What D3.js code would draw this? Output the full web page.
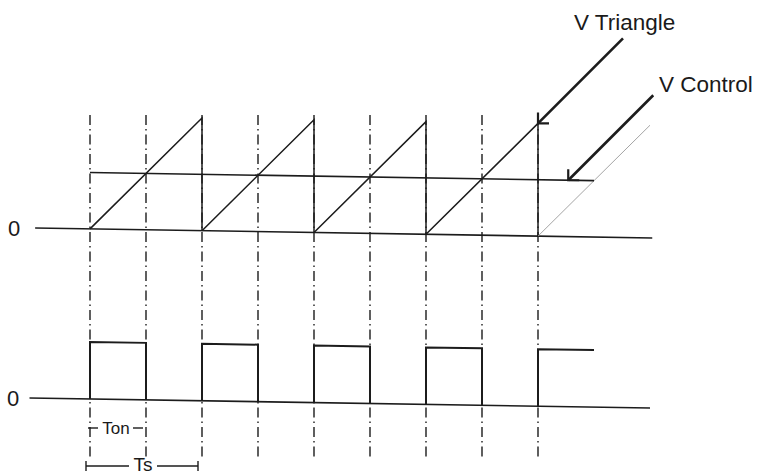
<!DOCTYPE html>
<html><head><meta charset="utf-8">
<script src="https://cdn.jsdelivr.net/npm/d3@7"></script>
<style>body{margin:0;background:#fff}text{font-family:"Liberation Sans",Arial,sans-serif;fill:#1a1a1a}</style>
</head><body>
<script>
// ---- data ----
const rampStarts = [0, 1, 2, 3];        // start of each black sawtooth ramp (units of Ts)
const rampPeak = 1;                       // triangle peak (normalised)
const extraRamp = [4, 5];                 // grey ramp continuing after last period
const vControl = 0.5;                     // control voltage
const controlSpan = [0, 4.5];
const pulseStarts = [0, 1, 2, 3, 4];
const pulseEnds = [0.5, 1.5, 2.5, 3.5, 4.5];
const pulseLevel = 1;
const gridTimes = [0, 0.5, 1, 1.5, 2, 2.5, 3, 3.5, 4];
const topAxisSpan = [-0.49, 5.02];
const botAxisSpan = [-0.54, 5.0];
const labels = {tri: "V Triangle", ctl: "V Control", zero: "0", ton: "Ton", ts: "Ts"};

const W = 760, H = 476;
const k = 0.0162; // scan tilt (skewY)
const svg = d3.select("body").append("svg").attr("width", W).attr("height", H);

const x = d3.scaleLinear().domain([0, 4]).range([90, 538]);
const yTop = d3.scaleLinear().domain([0, 1]).range([227.4, 114.7]);
const yBot = d3.scaleLinear().domain([0, 1]).range([397.5, 340.5]);
const sk = (px, py) => [px, py + px * k];

const col = "#1c1c1c";
// vertical dash-dot grid (screen space)
svg.append("g").selectAll("line").data(gridTimes).join("line")
  .attr("x1", d => x(d)).attr("x2", d => x(d))
  .attr("y1", 115).attr("y2", 460)
  .attr("stroke", col).attr("stroke-width", 1.4)
  .attr("stroke-dasharray", "10,4,1.5,4");

const g = svg.append("g").attr("transform", `matrix(1,${k},0,1,0,0)`);
const line = d3.line();

// zero lines
g.append("path").attr("d", line([[x(topAxisSpan[0]), yTop(0)], [x(topAxisSpan[1]), yTop(0)]]))
  .attr("stroke", col).attr("stroke-width", 1.6).attr("fill", "none");
g.append("path").attr("d", line([[x(botAxisSpan[0]), yBot(0)], [x(botAxisSpan[1]), yBot(0)]]))
  .attr("stroke", col).attr("stroke-width", 1.6).attr("fill", "none");

// sawtooth ramps + drops
rampStarts.forEach(t => {
  g.append("path").attr("d", line([[x(t), yTop(0)], [x(t + 1), yTop(rampPeak)], [x(t + 1), yTop(0)]]))
    .attr("stroke", col).attr("stroke-width", 1.5).attr("fill", "none");
});
// grey continuing ramp
g.append("path").attr("d", line([[x(extraRamp[0]), yTop(0)], [x(extraRamp[1]), yTop(rampPeak)]]))
  .attr("stroke", "#9a9a9a").attr("stroke-width", 0.9).attr("fill", "none");

// control line
g.append("path").attr("d", line([[x(controlSpan[0]), yTop(vControl)], [x(controlSpan[1]), yTop(vControl)]]))
  .attr("stroke", col).attr("stroke-width", 1.6).attr("fill", "none");

// pulses
pulseStarts.forEach((s, i) => {
  const e = pulseEnds[i];
  const pts = i < pulseStarts.length - 1
    ? [[x(s), yBot(0)], [x(s), yBot(pulseLevel)], [x(e), yBot(pulseLevel)], [x(e), yBot(0)]]
    : [[x(s), yBot(0)], [x(s), yBot(pulseLevel)], [x(e), yBot(pulseLevel)]];
  g.append("path").attr("d", line(pts)).attr("stroke", col).attr("stroke-width", 2).attr("fill", "none");
});

// arrows (screen space)
function arrow(tip) {
  const [tx, ty] = tip;
  svg.append("line").attr("x1", tx + 85).attr("y1", ty - 85).attr("x2", tx).attr("y2", ty)
    .attr("stroke", col).attr("stroke-width", 2.6);
  svg.append("path").attr("d", line([[tx, ty - 11], [tx, ty], [tx + 11, ty]]))
    .attr("stroke", col).attr("stroke-width", 2.2).attr("fill", "none");
}
arrow(sk(x(4), yTop(rampPeak)));
arrow(sk(x(4.27), yTop(vControl)));

svg.append("text").attr("x", 574).attr("y", 30).attr("font-size", 22.5).text(labels.tri);
svg.append("text").attr("x", 659).attr("y", 92).attr("font-size", 22.5).text(labels.ctl);
svg.append("text").attr("x", 8).attr("y", 236).attr("font-size", 22).text(labels.zero);
svg.append("text").attr("x", 7).attr("y", 406).attr("font-size", 22).text(labels.zero);

// Ton annotation
const tonY = 428;
svg.append("line").attr("x1", x(0) - 2).attr("x2", x(0) + 8).attr("y1", tonY).attr("y2", tonY).attr("stroke", col).attr("stroke-width", 1.4);
svg.append("line").attr("x1", x(0.5) - 13).attr("x2", x(0.5) - 3).attr("y1", tonY).attr("y2", tonY).attr("stroke", col).attr("stroke-width", 1.4);
svg.append("text").attr("x", (x(0) + x(0.5)) / 2 - 2).attr("y", 434).attr("text-anchor", "middle").attr("font-size", 17).text(labels.ton);

// Ts annotation
const tsY = 466;
svg.append("line").attr("x1", x(0) - 4).attr("x2", 129).attr("y1", tsY).attr("y2", tsY).attr("stroke", col).attr("stroke-width", 1.4);
svg.append("line").attr("x1", 157).attr("x2", x(1) - 4).attr("y1", tsY).attr("y2", tsY).attr("stroke", col).attr("stroke-width", 1.4);
[x(0) - 4, x(1) - 4].forEach(px => svg.append("line").attr("x1", px).attr("x2", px).attr("y1", tsY - 5).attr("y2", tsY + 5).attr("stroke", col).attr("stroke-width", 1.4));
svg.append("text").attr("x", 143).attr("y", 471).attr("text-anchor", "middle").attr("font-size", 19).text(labels.ts);
</script>
</body></html>
